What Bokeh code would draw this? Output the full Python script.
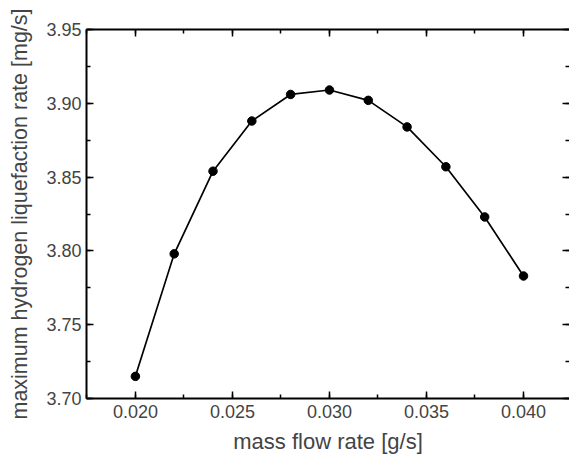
from bokeh.plotting import figure
from bokeh.models import (Range1d, LinearAxis, SingleIntervalTicker, PrintfTickFormatter,
                          CustomJSTickFormatter)
from bokeh.embed import file_html
from bokeh.resources import INLINE

# data
mass_flow = [0.020, 0.022, 0.024, 0.026, 0.028, 0.030, 0.032, 0.034, 0.036, 0.038, 0.040]
liq_rate = [3.715, 3.798, 3.854, 3.888, 3.906, 3.909, 3.902, 3.884, 3.857, 3.823, 3.783]

x_title = "mass flow rate [g/s]"
y_title = "maximum hydrogen liquefaction rate [mg/s]"

FONT = "Liberation Sans"

p = figure(width=569, height=460, output_backend="svg", toolbar_location=None,
           x_range=Range1d(0.01748, 0.04237), y_range=Range1d(3.70, 3.95),
           x_axis_type=None, y_axis_type=None,
           min_border_left=86, min_border_right=0, min_border_top=29, min_border_bottom=62)
p.outline_line_color = None
p.background_fill_color = "white"
p.border_fill_color = "white"
p.xgrid.visible = False
p.ygrid.visible = False


def style(ax):
    ax.axis_line_color = "black"
    ax.axis_line_width = 2
    ax.major_tick_line_color = "black"
    ax.minor_tick_line_color = "black"
    ax.major_tick_line_width = 1.5
    ax.minor_tick_line_width = 1.5
    ax.major_tick_out = 0
    ax.minor_tick_out = 0
    ax.major_tick_in = 7
    ax.minor_tick_in = 4


xticker = SingleIntervalTicker(interval=0.005, num_minor_ticks=2)
yticker = SingleIntervalTicker(interval=0.05, num_minor_ticks=2)
blank = CustomJSTickFormatter(code="return ''")

xb = LinearAxis(ticker=xticker, formatter=PrintfTickFormatter(format="%.3f"),
                axis_label=x_title)
style(xb)
xb.major_label_text_font = FONT
xb.major_label_text_font_size = "18px"
xb.major_label_standoff = 6
xb.axis_label_text_font = FONT
xb.axis_label_text_font_size = "22px"
xb.axis_label_text_font_style = "normal"
xb.axis_label_standoff = 8
p.add_layout(xb, "below")

yl = LinearAxis(ticker=yticker, formatter=PrintfTickFormatter(format="%.2f"),
                axis_label=y_title)
style(yl)
yl.major_label_text_font = FONT
yl.major_label_text_font_size = "18px"
yl.major_label_standoff = 5
yl.axis_label_text_font = FONT
yl.axis_label_text_font_size = "21.5px"
yl.axis_label_text_font_style = "normal"
yl.axis_label_standoff = 11
p.add_layout(yl, "left")

xt = LinearAxis(ticker=xticker, formatter=blank, major_label_standoff=0)
style(xt)
p.add_layout(xt, "above")

yr = LinearAxis(ticker=yticker, formatter=blank, major_label_standoff=0)
style(yr)
yr.axis_line_color = None
p.add_layout(yr, "right")

p.line(mass_flow, liq_rate, line_color="black", line_width=1.7)
p.scatter(mass_flow, liq_rate, marker="circle", size=8.5, fill_color="black", line_color="black")

open("out.html", "w").write(file_html(p, INLINE))
